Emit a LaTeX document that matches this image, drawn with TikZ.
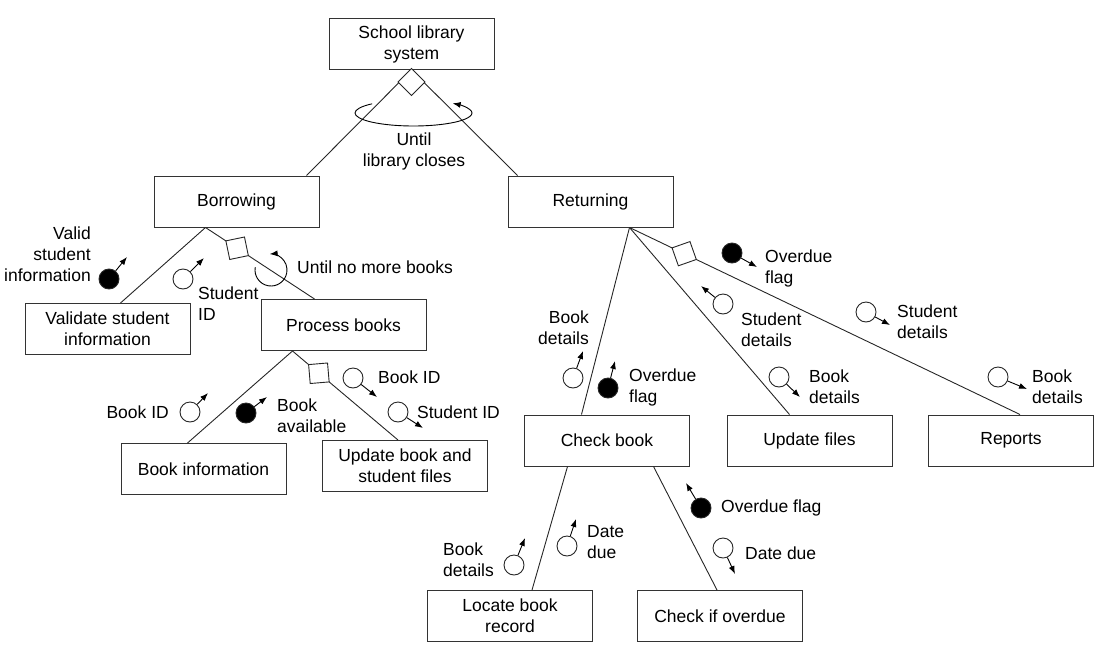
\documentclass[tikz,border=0pt]{standalone}
\usepackage{fontspec}
\setmainfont{Liberation Sans}
\usetikzlibrary{arrows.meta,calc}
\begin{document}
\begin{tikzpicture}[x=1pt,y=-1pt,
  every node/.style={font=\fontsize{17.5}{21}\selectfont},
  box/.style={draw=black!80, line width=1pt, minimum width=165pt, minimum height=51pt, align=center, inner sep=2pt},
  link/.style={line width=0.9pt, draw=black!85},
  dia/.style={rectangle, draw=black!85, line width=0.9pt, fill=white, minimum size=19pt, inner sep=0pt},
  cpl/.style={circle, draw=black!85, line width=0.9pt, minimum size=20pt, inner sep=0pt, fill=white},
  cplf/.style={cpl, fill=black},
  flow/.style={-{Latex[length=8pt,width=6pt]}, line width=0.9pt},
  lbl/.style={inner sep=0pt}]
\useasboundingbox (0,0) rectangle (1110,656);
% boxes
\node[box] (top) at (411.5,44) {School library\\system};
\node[box] (borrow) at (236.5,201.5) {Borrowing};
\node[box] (ret) at (590.5,201.5) {Returning};
\node[box] (validate) at (107.5,329) {Validate student\\information};
\node[box] (process) at (343.5,325) {Process books};
\node[box] (bookinfo) at (203.5,469) {Book information};
\node[box] (update) at (405,466) {Update book and\\student files};
\node[box] (check) at (607,440.5) {Check book};
\node[box] (updfiles) at (809.5,440.5) {Update files};
\node[box] (reports) at (1011,440.5) {Reports};
\node[box] (locate) at (510,616) {Locate book\\record};
\node[box] (overdue) at (720,616) {Check if overdue};
% connectors
\draw[link] (top.south) -- ([xshift=153pt]borrow.north west);
\draw[link] (top.south) -- ([xshift=10pt]ret.north west);
\node[dia, rotate=45] (d1) at (411.5,82) {};
\draw[link] ([xshift=52pt]borrow.south west) -- ([xshift=96pt]validate.north west);
\draw[link] ([xshift=52pt]borrow.south west) -- node[dia, sloped, rotate=45, pos=0.29] (d2) {} ([xshift=54pt]process.north west);
\draw[link] ([xshift=32pt]process.south west) -- ([xshift=67pt]bookinfo.north west);
\draw[link] ([xshift=32pt]process.south west) -- node[dia, sloped, rotate=45, pos=0.25] (d3) {} ([xshift=76pt]update.north west);
\draw[link] ([xshift=122pt]ret.south west) -- ([xshift=57.5pt]check.north west);
\draw[link] ([xshift=122pt]ret.south west) -- ([xshift=63pt]updfiles.north west);
\draw[link] ([xshift=122pt]ret.south west) -- node[dia, sloped, rotate=45, pos=0.14] (d4) {} ([xshift=92pt]reports.north west);
\draw[link] ([xshift=43.5pt]check.south west) -- ([xshift=105pt]locate.north west);
\draw[link] ([xshift=129.5pt]check.south west) -- ([xshift=80pt]overdue.north west);
% iteration loops
\coordinate (L1) at (413.5,113);
\draw[flow] ($(L1)+(225:58.5 and 13)$) arc[start angle=225, end angle=-48, x radius=58.5, y radius=13];
\node[lbl, align=center] (tl1) at (414,151) {Until\\library closes};
\coordinate (L2) at (271,270);
\draw[flow] ($(L2)+(190:16)$) arc[start angle=190, end angle=-95, radius=16];
\node[lbl, anchor=west] (tl2) at (297,267) {Until no more books};
% data couples
\node[cplf] (c1) at (109,279) {}; \coordinate (c1e) at (127,257); \draw[flow] (c1) -- (c1e);
\node[lbl, anchor=east, align=right] (t1) at (91,254) {Valid\\student\\information};
\node[cpl] (c2) at (183,279) {}; \coordinate (c2e) at (204,258); \draw[flow] (c2) -- (c2e);
\node[lbl, anchor=west, align=left] (t2) at (198,304) {Student\\ID};
\node[cpl] (c3) at (190,412) {}; \coordinate (c3e) at (208,393); \draw[flow] (c3) -- (c3e);
\node[lbl, anchor=east] (t3) at (169,412) {Book ID};
\node[cplf] (c4) at (246,413) {}; \coordinate (c4e) at (267,397); \draw[flow] (c4) -- (c4e);
\node[lbl, anchor=west, align=left] (t4) at (277,415.5) {Book\\available};
\node[cpl] (c5) at (353,378) {}; \coordinate (c5e) at (377,397); \draw[flow] (c5) -- (c5e);
\node[lbl, anchor=west] (t5) at (378,377) {Book ID};
\node[cpl] (c6) at (398,412) {}; \coordinate (c6e) at (423,428); \draw[flow] (c6) -- (c6e);
\node[lbl, anchor=west] (t6) at (417,412) {Student ID};
\node[cplf] (c7) at (732,253) {}; \coordinate (c7e) at (757,267); \draw[flow] (c7) -- (c7e);
\node[lbl, anchor=west, align=left] (t7) at (765,268) {Overdue\\flag};
\node[cpl] (c8) at (723,304) {}; \coordinate (c8e) at (701,286); \draw[flow] (c8) -- (c8e);
\node[lbl, anchor=west, align=left] (t8) at (741,330) {Student\\details};
\node[cpl] (c9) at (866,312) {}; \coordinate (c9e) at (890,325); \draw[flow] (c9) -- (c9e);
\node[lbl, anchor=west, align=left] (t9) at (897,321.5) {Student\\details};
\node[cpl] (c10) at (573,378) {}; \coordinate (c10e) at (583,351); \draw[flow] (c10) -- (c10e);
\node[lbl, anchor=east, align=right] (t10) at (589,327.5) {Book\\details};
\node[cplf] (c11) at (608,388) {}; \coordinate (c11e) at (615,361); \draw[flow] (c11) -- (c11e);
\node[lbl, anchor=west, align=left] (t11) at (629,387.5) {Overdue\\flag};
\node[cpl] (c12) at (779,377) {}; \coordinate (c12e) at (800,397); \draw[flow] (c12) -- (c12e);
\node[lbl, anchor=west, align=left] (t12) at (809,386.5) {Book\\details};
\node[cpl] (c13) at (998,377) {}; \coordinate (c13e) at (1027,389); \draw[flow] (c13) -- (c13e);
\node[lbl, anchor=west, align=left] (t13) at (1032,386.5) {Book\\details};
\node[cpl] (c14) at (514,565) {}; \coordinate (c14e) at (525,538); \draw[flow] (c14) -- (c14e);
\node[lbl, anchor=west, align=left] (t14) at (443,559.5) {Book\\details};
\node[cpl] (c15) at (567,546) {}; \coordinate (c15e) at (576,519); \draw[flow] (c15) -- (c15e);
\node[lbl, anchor=west, align=left] (t15) at (587,542.5) {Date\\due};
\node[cplf] (c16) at (701,508) {}; \coordinate (c16e) at (686,483); \draw[flow] (c16) -- (c16e);
\node[lbl, anchor=west] (t16) at (721,508) {Overdue flag};
\node[cpl] (c17) at (723,548) {}; \coordinate (c17e) at (735,574); \draw[flow] (c17) -- (c17e);
\node[lbl, anchor=west] (t17) at (745,553) {Date due};
\end{tikzpicture}
\end{document}
